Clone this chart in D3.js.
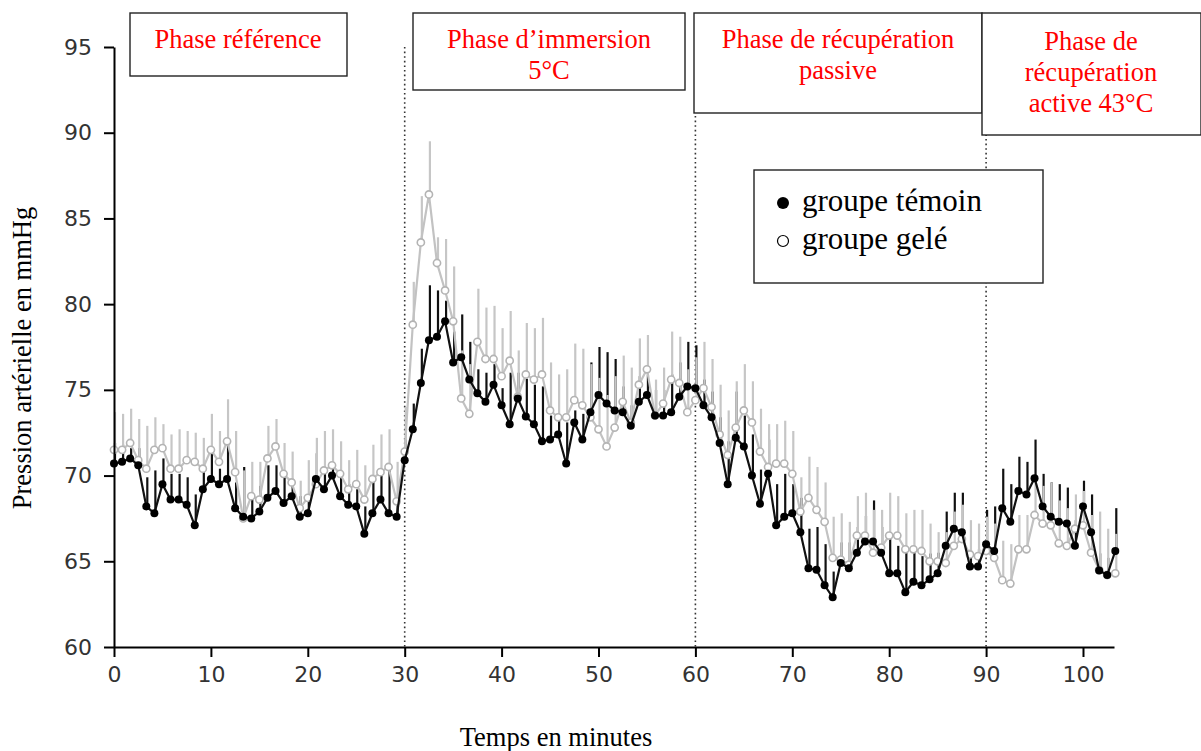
<!DOCTYPE html>
<html>
<head>
<meta charset="utf-8">
<script src="https://cdnjs.cloudflare.com/ajax/libs/d3/7.8.5/d3.min.js"></script>
<style>
	body { margin: 0; background: #fff; }
	.tick text { font-family: "DejaVu Sans", sans-serif; font-size: 22px; fill: #333; }
	.serif { font-family: "Liberation Serif", "Times New Roman", serif; }
</style>
</head>
<body>
<div id="chart"></div>
<script>
// one sample every 50 s, values in mmHg
var sampleSec = 50;

var temoin = [70.7, 70.8, 71.0, 70.6, 68.2, 67.8, 69.5, 68.6, 68.6, 68.3,
	67.1, 69.2, 69.8, 69.5, 69.8, 68.1, 67.6, 67.5, 67.9, 68.7,
	69.1, 68.4, 68.8, 67.6, 67.8, 69.8, 69.2, 70.0, 68.8, 68.3,
	68.2, 66.6, 67.8, 68.6, 67.8, 67.6, 70.9, 72.7, 75.4, 77.9,
	78.1, 79.0, 76.6, 76.9, 75.6, 74.8, 74.3, 75.3, 74.1, 73.0,
	74.5, 73.45, 73.0, 72.0, 72.1, 72.4, 70.7, 73.1, 72.1, 73.7,
	74.7, 74.2, 73.8, 73.7, 72.9, 74.3, 74.7, 73.5, 73.5, 73.7,
	74.6, 75.2, 75.1, 74.1, 73.4, 71.9, 69.5, 72.2, 71.7, 70.0,
	68.35, 70.1, 67.1, 67.6, 67.8, 66.7, 64.6, 64.5, 63.6, 62.9,
	64.9, 64.6, 65.5, 66.15, 66.15, 65.5, 64.3, 64.3, 63.2, 63.8,
	63.6, 63.95, 64.3, 65.9, 66.9, 66.7, 64.7, 64.7, 66.0, 65.6,
	68.1, 67.3, 69.1, 68.9, 69.85, 68.2, 67.6, 67.3, 67.2, 65.9,
	68.2, 66.7, 64.46, 64.2, 65.6];

var temoinSd = [1.2, 1.0, 0.6, 1.0, 1.7, 2.5, 1.5, 1.5, 1.5, 1.6,
	1.8, 1.2, 1.6, 0.9, 2.0, 1.5, 2.9, 1.5, 1.5, 1.9,
	1.5, 1.5, 1.0, 1.2, 1.0, 1.5, 0.9, 0.8, 1.3, 1.2,
	1.0, 1.6, 1.9, 1.4, 2.7, 1.0, 1.2, 1.5, 2.0, 3.2,
	2.7, 1.2, 1.8, 2.5, 2.2, 1.4, 1.7, 1.2, 1.0, 3.0,
	1.5, 2.2, 2.3, 3.2, 1.4, 0.8, 2.4, 0.7, 1.5, 2.9,
	2.8, 3.0, 3.0, 1.5, 1.2, 1.5, 1.2, 1.5, 1.5, 2.2,
	2.0, 2.6, 2.5, 1.5, 1.5, 1.5, 2.5, 2.7, 1.8, 2.4,
	2.0, 2.0, 2.4, 2.5, 1.7, 2.0, 2.3, 2.5, 2.4, 1.5,
	1.2, 1.5, 1.5, 1.5, 2.4, 1.5, 2.4, 1.6, 2.4, 1.9,
	1.7, 1.5, 1.2, 2.0, 2.1, 2.3, 1.0, 1.0, 2.0, 2.6,
	2.3, 2.2, 2.0, 1.9, 2.25, 1.9, 2.0, 2.2, 2.1, 1.5,
	1.5, 2.2, 1.0, 1.0, 2.5];

var gele = [71.5, 71.5, 71.9, 70.9, 70.4, 71.5, 71.6, 70.4, 70.4, 70.9,
	70.8, 70.4, 71.5, 70.8, 72.0, 70.2, 67.5, 68.8, 68.6, 71.0,
	71.7, 70.1, 69.6, 68.1, 68.7, 69.5, 70.3, 70.6, 70.1, 69.2,
	69.5, 68.6, 69.8, 70.2, 70.5, 68.5, 71.4, 78.8, 83.6, 86.4,
	82.4, 80.8, 79.0, 74.5, 73.6, 77.8, 76.8, 76.8, 75.8, 76.7,
	74.6, 75.9, 75.6, 75.9, 73.8, 73.4, 73.4, 74.4, 74.1, 73.4,
	72.7, 71.7, 72.8, 74.3, 73.1, 75.3, 76.2, 73.5, 74.2, 75.6,
	75.4, 73.7, 74.4, 75.1, 74.0, 72.4, 71.2, 72.8, 73.8, 73.1,
	71.4, 70.5, 70.7, 70.7, 70.1, 67.9, 68.7, 68.0, 67.3, 65.2,
	65.1, 64.8, 66.5, 66.5, 65.5, 65.8, 66.5, 66.5, 65.7, 65.7,
	65.6, 65.0, 65.0, 64.9, 65.9, 66.3, 65.4, 65.3, 65.6, 65.2,
	63.9, 63.7, 65.7, 65.7, 67.7, 67.2, 67.1, 66.05, 65.9, 66.9,
	67.1, 65.5, 64.5, 64.2, 64.3];

var geleSd = [2.2, 2.1, 2.0, 2.4, 2.5, 1.9, 1.4, 2.0, 2.3, 1.7,
	1.7, 1.8, 2.1, 1.8, 2.45, 2.4, 2.8, 2.0, 2.2, 1.9,
	1.6, 1.8, 1.8, 1.6, 2.2, 2.7, 2.3, 2.1, 1.9, 1.7,
	2.0, 2.0, 2.0, 2.2, 2.2, 2.3, 2.6, 2.5, 2.7, 3.1,
	1.5, 3.0, 3.2, 2.8, 2.9, 3.1, 3.0, 3.1, 2.8, 2.9,
	2.7, 3.0, 3.0, 3.3, 2.8, 2.5, 2.8, 3.3, 3.3, 3.1,
	3.0, 3.0, 3.0, 2.7, 3.2, 2.7, 2.0, 2.1, 2.1, 2.8,
	2.7, 2.5, 2.5, 2.7, 2.8, 2.9, 2.6, 2.7, 2.7, 2.4,
	2.5, 2.5, 2.3, 2.5, 2.5, 2.0, 2.4, 2.5, 2.3, 2.4,
	2.7, 2.5, 2.3, 2.5, 2.5, 2.2, 2.5, 2.3, 2.1, 2.3,
	2.4, 2.2, 1.7, 1.8, 2.0, 2.0, 2.0, 1.9, 2.0, 2.0,
	2.3, 2.3, 2.0, 2.0, 2.0, 2.2, 2.5, 2.5, 2.2, 2.0,
	2.0, 2.2, 3.4, 2.7, 2.3];

var xTicks = [0, 10, 20, 30, 40, 50, 60, 70, 80, 90, 100];
var yTicks = [60, 65, 70, 75, 80, 85, 90, 95];
var phaseEnds = [30, 60, 90];
var phaseLabels = [
	["Phase référence"],
	["Phase d\u2019immersion", "5°C"],
	["Phase de récupération", "passive"],
	["Phase de", "récupération", "active 43°C"]
];
var legendLabels = ["groupe témoin", "groupe gelé"];

var W = 1201, H = 751;
var svg = d3.select("#chart").append("svg").attr("width", W).attr("height", H);

var x = d3.scaleLinear().domain([0, 103.2]).range([114, 1114]);
var y = d3.scaleLinear().domain([60, 95]).range([647, 47]);

var minutes = temoin.map(function (d, i) { return i * sampleSec / 60; });

// phase separators (dotted), boxes are drawn over them later
svg.selectAll("line.sep").data(phaseEnds).enter().append("line")
	.attr("class", "sep")
	.attr("x1", function (d) { return x(d); })
	.attr("x2", function (d) { return x(d); })
	.attr("y1", y(95))
	.attr("y2", y(60))
	.attr("stroke", "#333")
	.attr("stroke-width", 1.6)
	.attr("stroke-dasharray", "1.6,3");

function errBars(vals, sds, cls, color) {
	svg.selectAll("line." + cls).data(vals).enter().append("line")
		.attr("class", cls)
		.attr("x1", function (d, i) { return x(minutes[i]) + 1; })
		.attr("x2", function (d, i) { return x(minutes[i]) + 1; })
		.attr("y1", function (d) { return y(d); })
		.attr("y2", function (d, i) { return y(d + sds[i]); })
		.attr("stroke", color)
		.attr("stroke-width", 2.2);
}

function drawLine(vals, color) {
	var line = d3.line()
		.x(function (d, i) { return x(minutes[i]); })
		.y(function (d) { return y(d); });
	svg.append("path").datum(vals)
		.attr("d", line)
		.attr("fill", "none")
		.attr("stroke", color)
		.attr("stroke-width", 2.2);
}

errBars(temoin, temoinSd, "errT", "#111");
errBars(gele, geleSd, "errG", "#c6c6c6");
drawLine(gele, "#c2c2c2");

svg.selectAll("circle.ptG").data(gele).enter().append("circle")
	.attr("class", "ptG")
	.attr("cx", function (d, i) { return x(minutes[i]); })
	.attr("cy", function (d) { return y(d); })
	.attr("r", 3.6)
	.attr("fill", "#fff")
	.attr("stroke", "#b4b4b4")
	.attr("stroke-width", 1.6);

drawLine(temoin, "#111");

svg.selectAll("circle.ptT").data(temoin).enter().append("circle")
	.attr("class", "ptT")
	.attr("cx", function (d, i) { return x(minutes[i]); })
	.attr("cy", function (d) { return y(d); })
	.attr("r", 4)
	.attr("fill", "#000");

// axes
var yAxis = d3.axisLeft(y).tickValues(yTicks).tickSize(10).tickSizeOuter(0).tickPadding(12);
var xAxis = d3.axisBottom(x).tickValues(xTicks).tickSize(10).tickSizeOuter(0).tickPadding(9);

var gy = svg.append("g").attr("transform", "translate(114,0)").call(yAxis);
var gx = svg.append("g").attr("transform", "translate(0,647)").call(xAxis);
[gy, gx].forEach(function (g) {
	g.select(".domain").attr("stroke", "#000").attr("stroke-width", 2);
	g.selectAll(".tick line").attr("stroke", "#000").attr("stroke-width", 2);
});

// phase boxes
var boxes = [
	{x: 130, y: 13, w: 217, h: 63, cx: 238, base: 48},
	{x: 413, y: 13, w: 272, h: 77, cx: 549, base: 48},
	{x: 694, y: 13, w: 288, h: 100, cx: 838, base: 48},
	{x: 982, y: 13, w: 219, h: 122, cx: 1091, base: 50}
];
boxes.forEach(function (b, k) {
	svg.append("rect")
		.attr("x", b.x).attr("y", b.y).attr("width", b.w).attr("height", b.h)
		.attr("fill", "#fff").attr("stroke", "#222").attr("stroke-width", 1.4);
	var t = svg.append("text").attr("class", "serif")
		.attr("x", b.cx).attr("y", b.base)
		.attr("text-anchor", "middle")
		.attr("font-size", 26.5)
		.attr("fill", "#ff0000");
	phaseLabels[k].forEach(function (s, j) {
		t.append("tspan").attr("x", b.cx).attr("dy", j == 0 ? 0 : 31).text(s);
	});
});

// legend
svg.append("rect").attr("x", 754).attr("y", 170).attr("width", 289).attr("height", 113)
	.attr("fill", "#fff").attr("stroke", "#222").attr("stroke-width", 1.4);
svg.append("circle").attr("cx", 783).attr("cy", 203).attr("r", 6).attr("fill", "#000");
svg.append("circle").attr("cx", 783).attr("cy", 241).attr("r", 5.5)
	.attr("fill", "#fff").attr("stroke", "#000").attr("stroke-width", 1.2);
svg.selectAll("text.leg").data(legendLabels).enter().append("text")
	.attr("class", "leg serif")
	.attr("x", 802)
	.attr("y", function (d, i) { return 211 + i * 38; })
	.attr("font-size", 31)
	.attr("fill", "#000")
	.text(function (d) { return d; });

// axis titles
svg.append("text").attr("class", "serif")
	.attr("x", 556).attr("y", 746)
	.attr("text-anchor", "middle")
	.attr("font-size", 26.5)
	.text("Temps en minutes");

svg.append("text").attr("class", "serif")
	.attr("transform", "translate(31,358) rotate(-90)")
	.attr("text-anchor", "middle")
	.attr("font-size", 26.5)
	.text("Pression artérielle en mmHg");
</script>
</body>
</html>
